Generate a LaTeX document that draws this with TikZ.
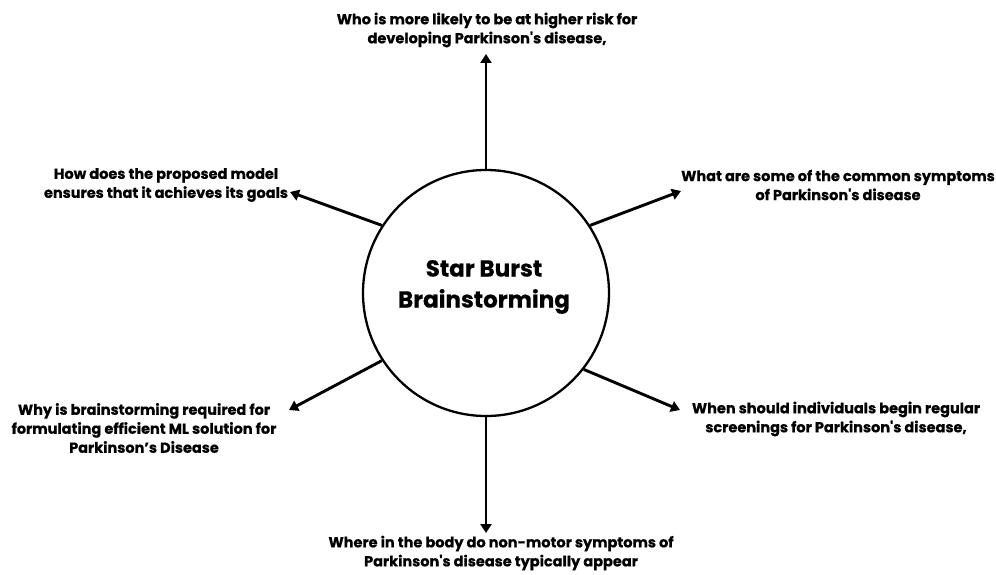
\documentclass[tikz,border=0pt]{standalone}
\usepackage{fontspec}
\setmainfont{Poppins}[Ligatures=TeXOff, BoldFeatures={FakeBold=0.6}]
\usetikzlibrary{arrows.meta}
\begin{document}
\begin{tikzpicture}[x=1pt,y=-1pt,
  question/.style={font=\fontsize{14.5}{19}\selectfont\bfseries, align=center, inner sep=0pt},
  spoke/.style={line width=2.9pt, -{Triangle[width=11pt,length=9pt]}},
  hub/.style={circle, draw, line width=2.3pt, minimum size=246pt, inner sep=0pt}]
  \useasboundingbox (0,0) rectangle (996,575);
  % central circle
  \node[hub] (c) at (486,293) {};
  \node[font=\fontsize{23}{31}\selectfont\bfseries, align=center] (title) at (484,287) {Star Burst\\Brainstorming};
  % question labels
  \node[question] (qtop) at (487,30) {Who is more likely to be at higher risk for\\developing Parkinson's disease,};
  \node[question] (qul) at (166,185) {How does the proposed model\\ensures that it achieves its goals};
  \node[question] (qur) at (838,185) {What are some of the common symptoms\\of Parkinson's disease};
  \node[question] (qll) at (144,428) {Why is brainstorming required for\\formulating efficient ML solution for\\Parkinson’s Disease};
  \node[question] (qlr) at (836,419) {When should individuals begin regular\\screenings for Parkinson's disease,};
  \node[question] (qbot) at (501,553) {Where in the body do non-motor symptoms of\\Parkinson's disease typically appear};
  % arrow tips
  \coordinate (ttop) at (486,54);
  \coordinate (tul) at (290,192);
  \coordinate (tur) at (681,191);
  \coordinate (tll) at (289,410);
  \coordinate (tlr) at (680,410);
  \coordinate (tbot) at (486,533);
  % spokes
  \draw[spoke] (c.90) -- (ttop);
  \draw[spoke] (c.147) -- (tul);
  \draw[spoke] (c.33) -- (tur);
  \draw[spoke] (c.213) -- (tll);
  \draw[spoke] (c.322) -- (tlr);
  \draw[spoke] (c.270) -- (tbot);
\end{tikzpicture}
\end{document}
